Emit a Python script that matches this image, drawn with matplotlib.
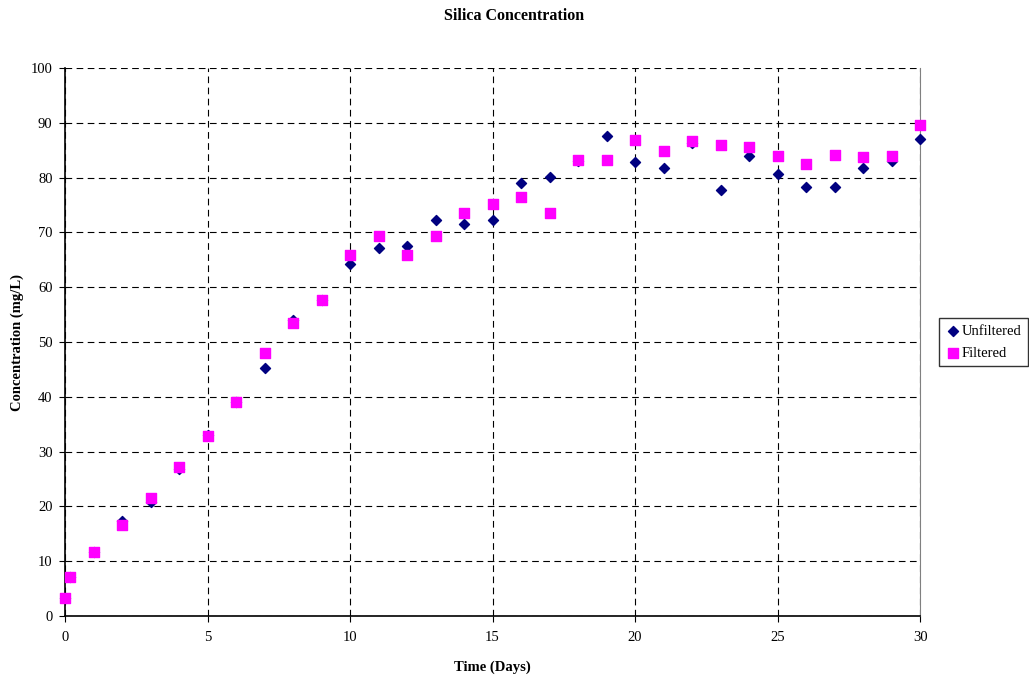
import matplotlib
matplotlib.use('Agg')
import matplotlib.pyplot as plt

plt.rcParams['font.family'] = ['Liberation Serif', 'DejaVu Serif']

# Time in days
days = [0, 0.17, 1, 2, 3, 4, 5, 6, 7, 8, 9, 10, 11, 12, 13, 14, 15, 16, 17, 18,
        19, 20, 21, 22, 23, 24, 25, 26, 27, 28, 29, 30]

unfiltered = [3.3, 7.2, 11.7, 17.3, 20.8, 26.8, 33.0, 39.1, 45.3, 54.0, 57.6, 64.3,
              67.1, 67.6, 72.2, 71.5, 72.2, 79.0, 80.2, 83.0, 87.6, 82.9, 81.8,
              86.4, 77.7, 83.9, 80.6, 78.3, 78.3, 81.7, 83.0, 87.0]

filtered = [3.3, 7.2, 11.7, 16.7, 21.5, 27.2, 32.8, 39.1, 48.0, 53.5, 57.6, 65.8,
            69.4, 65.9, 69.4, 73.6, 75.1, 76.4, 73.5, 83.2, 83.3, 86.9, 84.8,
            86.6, 85.9, 85.5, 84.0, 82.5, 84.2, 83.8, 84.0, 89.6]

fig = plt.figure(figsize=(10.29, 6.81), dpi=100)
ax = fig.add_axes([0.0632, 0.0954, 0.831, 0.8047])

ax.scatter(days, unfiltered, marker='D', s=26, color='#000080', label='Unfiltered',
           zorder=3, clip_on=False)
ax.scatter(days, filtered, marker='s', s=52, color='#FF00FF', label='Filtered',
           zorder=3, clip_on=False)

ax.set_xlim(0, 30)
ax.set_ylim(0, 100)
ax.set_xticks(range(0, 31, 5))
ax.set_yticks(range(0, 101, 10))
ax.grid(True, color='black', linestyle=(0, (6, 4)), linewidth=0.8)
ax.set_axisbelow(True)

ax.spines['top'].set_visible(False)
ax.spines['right'].set_color('#808080')
ax.spines['left'].set_linewidth(1.2)
ax.spines['bottom'].set_linewidth(1.2)
ax.tick_params(direction='out', length=4, labelsize=10.5)
ax.tick_params(axis='x', pad=7)
ax.tick_params(axis='y', pad=5)

ax.set_xlabel('Time (Days)', fontsize=10.5, fontweight='bold', labelpad=12)
ax.set_ylabel('Concentration (mg/L)', fontsize=10.5, fontweight='bold', labelpad=5)
fig.suptitle('Silica Concentration', fontsize=11.5, fontweight='bold', y=0.988)

leg = ax.legend(loc='center left', bbox_to_anchor=(1.022, 0.5), frameon=True,
                fancybox=False, edgecolor='black', fontsize=10.5,
                handletextpad=0.1, handlelength=1.0, borderpad=0.45,
                labelspacing=0.6, borderaxespad=0)
leg.get_frame().set_linewidth(1.0)

fig.savefig('out.png', dpi=100)
